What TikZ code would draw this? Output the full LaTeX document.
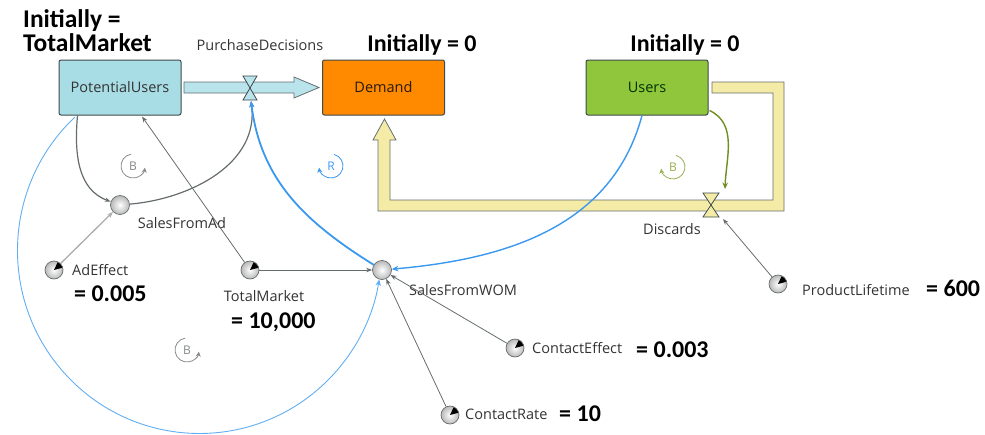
\documentclass[tikz,border=0pt]{standalone}
\usepackage{fontspec}
\setmainfont{Open Sans}
\newfontfamily\bigfont{Carlito}
\usetikzlibrary{arrows.meta,calc}
\definecolor{pucol}{HTML}{A9DDE6}
\definecolor{pipecol}{HTML}{B9E4EB}
\definecolor{demcol}{HTML}{FF8A00}
\definecolor{usercol}{HTML}{8FC63C}
\definecolor{yelcol}{HTML}{F4EBA6}
\definecolor{edgecol}{HTML}{3E4A4C}
\definecolor{linkgray}{HTML}{666C6E}
\definecolor{bluethick}{HTML}{3A98EE}
\definecolor{bluethin}{HTML}{62AEF2}
\definecolor{greenarr}{HTML}{6F8F1E}
\definecolor{greenloop}{HTML}{9AAE55}
\definecolor{txtcol}{HTML}{333333}
\begin{document}
\begin{tikzpicture}[x=1pt,y=1pt,
  small/.style={font=\fontsize{14.5}{16}\selectfont, text=txtcol, inner sep=0pt},
  big/.style={font=\bigfont\fontsize{24}{25}\selectfont\bfseries, text=black, inner sep=0pt},
  stock/.style={rectangle, rounded corners=2pt, draw=edgecol, line width=1pt,
    minimum width=122pt, minimum height=55pt, small},
  aux/.style={circle, draw=linkgray, line width=0.7pt, inner color=white, outer color=gray!55,
    minimum size=19pt, inner sep=0pt},
  const/.style={aux, minimum size=18pt, path picture={\fill[black] (path picture bounding box.center) -- ++(15:10) arc[start angle=15,end angle=65,radius=10] -- cycle;}},
  link/.style={draw=linkgray, line width=0.8pt, -{Stealth[length=6pt,width=4.5pt]}},
  tip/.style={-{Stealth[length=6.5pt,width=5.5pt]}},
  loopR/.pic={\draw[line width=0.8pt,-{Stealth[length=5pt,width=5pt]}] (100:12) arc[start angle=100,end angle=352,radius=12];
    \node[font=\fontsize{12}{12}\selectfont, inner sep=0pt] (-t) {#1};},
  loopL/.pic={\draw[line width=0.8pt,-{Stealth[length=5pt,width=5pt]}] (75:12) arc[start angle=75,end angle=-172,radius=12];
    \node[font=\fontsize{12}{12}\selectfont, inner sep=0pt] (-t) {#1};}
]
\useasboundingbox (0,0) rectangle (985,-434);

% ---------- flows ----------
% yellow pipe Users -> Discards -> Demand
\filldraw[fill=yelcol, draw=edgecol!80, line width=0.8pt]
  (712,-82) -- (784,-82) -- (784,-211) -- (378,-211) -- (378,-140) -- (373,-140)
  -- (384.5,-119) -- (396,-140) -- (390,-140) -- (390,-200) -- (773,-200) -- (773,-93)
  -- (712,-93) -- cycle;
% cyan pipe PotentialUsers -> Demand
\filldraw[fill=pipecol, draw=edgecol!80, line width=0.8pt]
  (184,-82) -- (294,-82) -- (294,-77) -- (319,-87.5) -- (294,-98) -- (294,-93)
  -- (184,-93) -- cycle;

% ---------- stocks ----------
\node[stock, fill=pucol] (pu) at (120,-87.5) {PotentialUsers};
\node[stock, fill=demcol, text=black!80!brown] (dem) at (383.5,-87.5) {Demand};
\node[stock, fill=usercol, text=black!80!green] (usr) at (647,-87.5) {Users};

% ---------- valves ----------
\coordinate (v1) at (250,-88);
\coordinate (v2) at (711,-205);
\filldraw[fill=pipecol, draw=edgecol, line width=0.8pt]
  ($(v1)+(-7,12)$) -- ($(v1)+(7,12)$) -- ($(v1)+(-7,-12)$) -- ($(v1)+(7,-12)$) -- cycle;
\filldraw[fill=yelcol, draw=edgecol, line width=0.8pt]
  ($(v2)+(-8,12)$) -- ($(v2)+(8,12)$) -- ($(v2)+(-8,-12)$) -- ($(v2)+(8,-12)$) -- cycle;
\coordinate (v1b) at (251,-101);
\coordinate (v2t) at (725,-189);
\coordinate (v2b) at (723,-219);

% ---------- auxiliaries and constants ----------
\node[aux] (sfa) at (120,-205) {};
\node[aux] (sfw) at (382,-270) {};
\node[const] (ae) at (54,-270) {};
\node[const] (tm) at (250,-270) {};
\node[const] (ce) at (515,-348) {};
\node[const] (cr) at (450,-415) {};
\node[const] (pl) at (778,-284) {};

% ---------- labels ----------
\node[big, font=\bigfont\fontsize{25.5}{26}\selectfont\bfseries, anchor=west] (l1) at (23,-21) {Initially =};
\node[big, font=\bigfont\fontsize{25.5}{26}\selectfont\bfseries, anchor=west] (l2) at (23,-43) {TotalMarket};
\node[big] (l3) at (422,-45) {Initially = 0};
\node[big] (l4) at (685,-45) {Initially = 0};
\node[small] (lpd) at (260,-45) {PurchaseDecisions};
\node[small] (ldis) at (672,-229) {Discards};
\node[small] (lsfa) at (182,-223) {SalesFromAd};
\node[small, anchor=west] (lae) at (72,-270) {AdEffect};
\node[big, anchor=west] (vae) at (74,-294) {= 0.005};
\node[small] (ltm) at (264,-296) {TotalMarket};
\node[big, anchor=west] (vtm) at (231,-322) {= 10,000};
\node[small] (lsfw) at (463,-290) {SalesFromWOM};
\node[small, anchor=west] (lce) at (532,-348) {ContactEffect};
\node[big, anchor=west] (vce) at (636,-350) {= 0.003};
\node[small, anchor=west] (lcr) at (465,-414) {ContactRate};
\node[big, anchor=west] (vcr) at (559,-414) {= 10};
\node[small, anchor=west] (lpl) at (802,-290) {ProductLifetime};
\node[big, anchor=west] (vpl) at (926,-288) {= 600};

% ---------- loop markers ----------
\pic[linkgray!80] (lb1) at (133,-166) {loopR=B};
\pic[bluethick] (lr) at (331,-166) {loopL=R};
\pic[greenloop] (lb2) at (673,-167) {loopL=B};
\pic[linkgray!80] (lb3) at (187,-350) {loopR=B};

% ---------- links ----------
\draw[link, line width=1.2pt] ($(pu.south west)+(19,0)$) to[out=-95,in=160] (sfa);
\draw[link, line width=1.2pt] (sfa) to[out=5,in=-82] (v1b);
\draw[link, draw=gray!65, line width=1.3pt] (ae) -- (sfa);
\draw[link] (tm) -- ($(pu.south)+(22,-1)$);
\draw[link] (tm) -- (sfw);
\draw[link] (ce) -- (sfw);
\draw[link] (cr) -- (sfw);
\draw[link] (pl) -- (v2b);
\draw[draw=bluethick, line width=1.8pt, tip] (sfw) to[out=148,in=-83] (v1b);
\draw[draw=bluethick, line width=1.4pt, tip] ($(usr.south)+(-5,0)$) to[out=-105,in=5] (sfw);
\draw[draw=bluethin, line width=0.9pt, tip] ($(pu.south west)+(16.4,-1.6)$)
  arc[start angle=133.2, end angle=350.9, x radius=182, y radius=183];
\draw[draw=greenarr, line width=1.4pt, tip] ($(usr.south east)+(1,5)$) to[out=-25,in=88] (v2t);
\end{tikzpicture}
\end{document}
